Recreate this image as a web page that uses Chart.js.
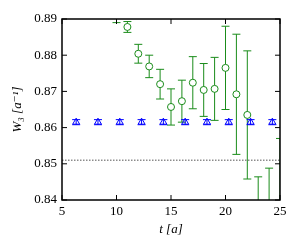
<!DOCTYPE html>
<html>
<head>
<meta charset="utf-8">
<script src="https://cdn.jsdelivr.net/npm/chart.js@4"></script>
<style>
  html, body { margin: 0; padding: 0; background: #fff; }
  #wrap { width: 300px; height: 250px; }
</style>
</head>
<body>
<div id="wrap"><canvas id="myChart" width="300" height="250"></canvas></div>
<script>
// values
var greenT = [10, 11, 12, 13, 14, 15, 16, 17, 18, 19, 20, 21, 22, 23, 24, 25];
var greenW = [0.8915, 0.8878, 0.8804, 0.8769, 0.8720, 0.8657, 0.8673, 0.8724,
              0.8704, 0.8707, 0.8765, 0.8692, 0.8635, 0.8300, 0.8320, 0.8350];
var greenErr = [0.0025, 0.0015, 0.0026, 0.0031, 0.0041, 0.0050, 0.0058, 0.0072,
                0.0073, 0.0087, 0.0115, 0.0166, 0.0177, 0.0164, 0.0168, 0.0220];

var blueT = [6.3, 8.3, 10.3, 12.3, 14.3, 16.3, 18.3, 20.3, 22.3, 24.3];
var blueW = [0.8615, 0.8615, 0.8615, 0.8615, 0.8615, 0.8615, 0.8615, 0.8615, 0.8615, 0.8615];
var blueErr = [0.0007, 0.0007, 0.0007, 0.0007, 0.0007, 0.0007, 0.0007, 0.0007, 0.0007, 0.0007];

var refLevel = 0.851;

var xTickValues = [5, 10, 15, 20, 25];
var yTickValues = [0.84, 0.85, 0.86, 0.87, 0.88, 0.89];

var serif = "'Liberation Serif', 'DejaVu Serif', serif";

function points(xs, ys) {
  return xs.map(function (x, i) { return { x: x, y: ys[i] }; });
}

// vertical error bars with caps, drawn under the markers
var errorBars = {
  id: 'errorBars',
  beforeDatasetsDraw: function (chart) {
    var ctx = chart.ctx, a = chart.chartArea;
    var xs = chart.scales.x, ys = chart.scales.y;
    ctx.save();
    ctx.beginPath();
    ctx.rect(a.left, a.top, a.right - a.left, a.bottom - a.top);
    ctx.clip();
    chart.data.datasets.forEach(function (ds) {
      if (!ds.errors) return;
      ctx.strokeStyle = ds.borderColor;
      ctx.lineWidth = 1;
      ds.data.forEach(function (p, i) {
        var px = xs.getPixelForValue(p.x);
        var top = ys.getPixelForValue(p.y + ds.errors[i]);
        var bot = ys.getPixelForValue(p.y - ds.errors[i]);
        ctx.beginPath();
        ctx.moveTo(px, top); ctx.lineTo(px, bot);
        ctx.moveTo(px - 4, top); ctx.lineTo(px + 4, top);
        ctx.moveTo(px - 4, bot); ctx.lineTo(px + 4, bot);
        ctx.stroke();
      });
    });
    ctx.restore();
  }
};

// box round the plot and inward ticks on all four sides
var frame = {
  id: 'frame',
  afterDraw: function (chart) {
    var ctx = chart.ctx, a = chart.chartArea;
    var xs = chart.scales.x, ys = chart.scales.y;
    ctx.save();
    ctx.strokeStyle = '#000';
    ctx.lineWidth = 1;
    ctx.beginPath();
    xs.ticks.forEach(function (t) {
      var px = xs.getPixelForValue(t.value);
      ctx.moveTo(px, a.bottom); ctx.lineTo(px, a.bottom - 5);
      ctx.moveTo(px, a.top); ctx.lineTo(px, a.top + 5);
    });
    ys.ticks.forEach(function (t) {
      var py = ys.getPixelForValue(t.value);
      ctx.moveTo(a.left, py); ctx.lineTo(a.left + 5, py);
      ctx.moveTo(a.right, py); ctx.lineTo(a.right - 5, py);
    });
    ctx.stroke();
    ctx.lineWidth = 1.5;
    ctx.strokeRect(a.left, a.top, a.right - a.left, a.bottom - a.top);
    ctx.restore();
  }
};

var myChart = new Chart('myChart', {
  type: 'scatter',
  data: {
    datasets: [
      {
        label: 'green',
        data: points(greenT, greenW),
        errors: greenErr,
        borderColor: '#1a8c1a',
        backgroundColor: '#ffffff',
        pointStyle: 'circle',
        pointRadius: 3.5,
        pointBorderWidth: 1,
        showLine: false
      },
      {
        label: 'blue',
        data: points(blueT, blueW),
        errors: blueErr,
        borderColor: '#0000ff',
        backgroundColor: 'rgba(0,0,0,0)',
        pointStyle: 'triangle',
        pointRadius: 4,
        pointBorderWidth: 1,
        showLine: false
      },
      {
        label: 'ref',
        data: [{ x: xTickValues[0], y: refLevel }, { x: xTickValues[xTickValues.length - 1], y: refLevel }],
        borderColor: '#555555',
        borderWidth: 1,
        borderDash: [1.5, 1.5],
        pointRadius: 0,
        showLine: true
      }
    ]
  },
  options: {
    responsive: false,
    animation: false,
    events: [],
    layout: { padding: { left: 0, top: 19, right: 20, bottom: 0 } },
    plugins: { legend: { display: false }, tooltip: { enabled: false } },
    scales: {
      x: {
        type: 'linear',
        min: 5,
        max: 25,
        afterBuildTicks: function (s) { s.ticks = xTickValues.map(function (v) { return { value: v }; }); },
        afterFit: function (s) { s.height = 50; },
        grid: { display: false, drawTicks: false },
        border: { display: false },
        ticks: {
          color: '#000',
          font: { family: serif, size: 13 },
          padding: 4,
          maxRotation: 0,
          autoSkip: false,
          callback: function (v) { return String(v); }
        },
        title: {
          display: true,
          text: 't [a]',
          color: '#000',
          font: { family: serif, size: 13, style: 'italic' },
          padding: { top: 0, bottom: 13 }
        }
      },
      y: {
        type: 'linear',
        min: 0.84,
        max: 0.89,
        afterBuildTicks: function (s) { s.ticks = yTickValues.map(function (v) { return { value: v }; }); },
        afterFit: function (s) { s.width = 62; },
        grid: { display: false, drawTicks: false },
        border: { display: false },
        ticks: {
          color: '#000',
          font: { family: serif, size: 13 },
          padding: 5,
          autoSkip: false,
          callback: function (v) { return Number(v).toFixed(2); }
        },
        title: {
          display: true,
          text: 'W\u2083 [a\u207B\u00B9]',
          color: '#000',
          font: { family: serif, size: 13, style: 'italic' },
          padding: { top: 10, bottom: 0 }
        }
      }
    }
  },
  plugins: [errorBars, frame]
});
</script>
</body>
</html>
